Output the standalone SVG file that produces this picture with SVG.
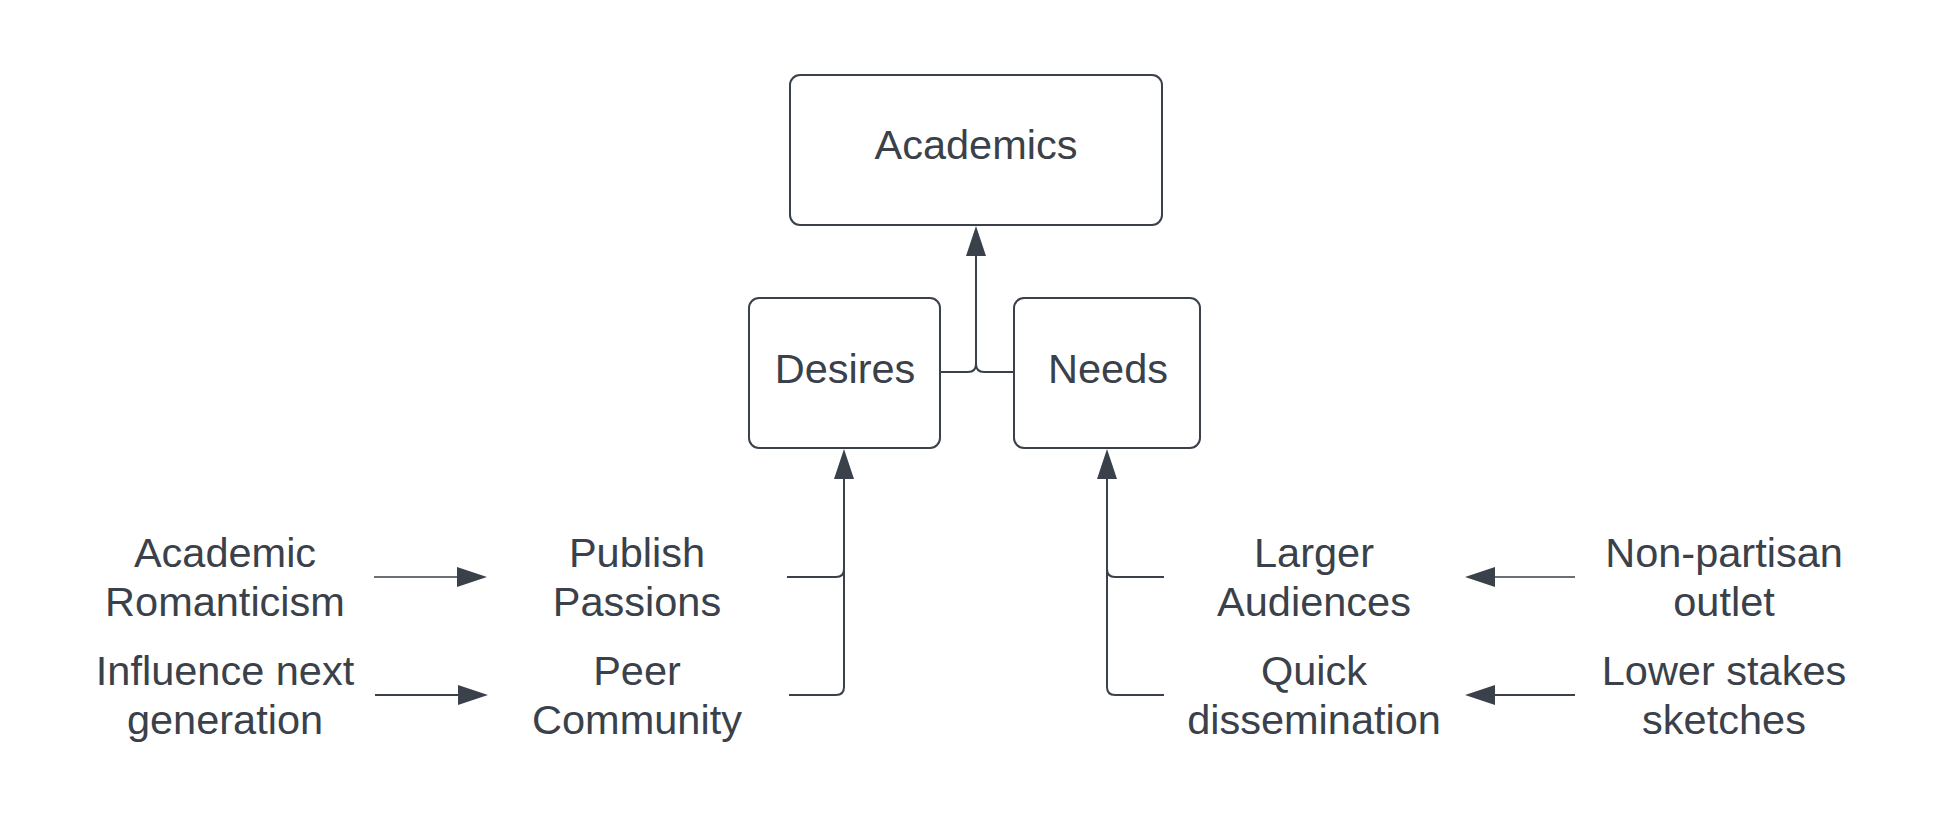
<svg xmlns="http://www.w3.org/2000/svg" width="1950" height="831" viewBox="0 0 1950 831">
<style>
  .box { fill: #ffffff; stroke: #3a414a; stroke-width: 2; }
  .lbl { font-family: "Liberation Sans", Arial, sans-serif; font-size: 41.5px; fill: #3a414a; text-anchor: middle; }
  .edge { fill: none; stroke: #3a414a; stroke-width: 2; }
  .thin { stroke-width: 1.5; }
</style>
<defs>
  <marker id="arrow" viewBox="0 0 30 20" refX="0" refY="10" markerWidth="30" markerHeight="20" markerUnits="userSpaceOnUse" orient="auto">
    <path d="M0,0 L30,10 L0,20 z" fill="#3a414a"/>
  </marker>
</defs>
<rect x="0" y="0" width="1950" height="831" fill="#ffffff"/>

<g id="connectors">
  <path class="edge" d="M940,372 H968 Q976,372 976,364 V256" marker-end="url(#arrow)"/>
  <path class="edge" d="M1014,372 H984 Q976,372 976,364"/>
  <path class="edge" d="M787,577 H836 Q844,577 844,569 V479" marker-end="url(#arrow)"/>
  <path class="edge" d="M789,695 H836 Q844,695 844,687 V569"/>
  <path class="edge" d="M1164,577 H1115 Q1107,577 1107,569 V479" marker-end="url(#arrow)"/>
  <path class="edge" d="M1164,695 H1115 Q1107,695 1107,687 V569"/>
  <path class="edge thin" d="M374,577 H457" marker-end="url(#arrow)"/>
  <path class="edge" d="M375,695 H458" marker-end="url(#arrow)"/>
  <path class="edge thin" d="M1575,577 H1495" marker-end="url(#arrow)"/>
  <path class="edge" d="M1575,695 H1495" marker-end="url(#arrow)"/>
</g>

<g id="academics">
  <rect class="box" x="790" y="75" width="372" height="150" rx="10"/>
  <text class="lbl" x="976" y="159">Academics</text>
</g>
<g id="desires">
  <rect class="box" x="749" y="298" width="191" height="150" rx="10"/>
  <text class="lbl" x="845" y="383">Desires</text>
</g>
<g id="needs">
  <rect class="box" x="1014" y="298" width="186" height="150" rx="10"/>
  <text class="lbl" x="1108" y="383">Needs</text>
</g>

<g id="academic-romanticism">
  <text class="lbl" x="225" y="567">Academic</text>
  <text class="lbl" x="225" y="616">Romanticism</text>
</g>
<g id="influence-next-generation">
  <text class="lbl" x="225" y="685">Influence next</text>
  <text class="lbl" x="225" y="734">generation</text>
</g>
<g id="publish-passions">
  <text class="lbl" x="637" y="567">Publish</text>
  <text class="lbl" x="637" y="616">Passions</text>
</g>
<g id="peer-community">
  <text class="lbl" x="637" y="685">Peer</text>
  <text class="lbl" x="637" y="734">Community</text>
</g>
<g id="larger-audiences">
  <text class="lbl" x="1314" y="567">Larger</text>
  <text class="lbl" x="1314" y="616">Audiences</text>
</g>
<g id="quick-dissemination">
  <text class="lbl" x="1314" y="685">Quick</text>
  <text class="lbl" x="1314" y="734">dissemination</text>
</g>
<g id="non-partisan-outlet">
  <text class="lbl" x="1724" y="567">Non-partisan</text>
  <text class="lbl" x="1724" y="616">outlet</text>
</g>
<g id="lower-stakes-sketches">
  <text class="lbl" x="1724" y="685">Lower stakes</text>
  <text class="lbl" x="1724" y="734">sketches</text>
</g>
</svg>
